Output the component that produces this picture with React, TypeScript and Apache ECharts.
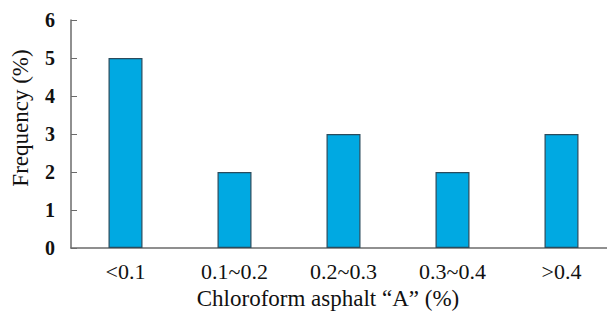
import React, { useEffect, useRef } from "react";
import * as echarts from "echarts";

const categories = ["<0.1", "0.1~0.2", "0.2~0.3", "0.3~0.4", ">0.4"];
const frequency = [5, 2, 3, 2, 3];
const yTicks = [0, 1, 2, 3, 4, 5, 6];

export default function App() {
  const ref = useRef<HTMLDivElement>(null);
  useEffect(() => {
    if (!ref.current) return;
    const chart = echarts.init(ref.current, null, { renderer: "svg" });
    const font = "'Liberation Serif', 'Times New Roman', serif";
    chart.setOption({
      animation: false,
      backgroundColor: "#ffffff",
      grid: { left: 71, top: 20, width: 545, height: 228, containLabel: false, outerBoundsMode: "none" },
      xAxis: {
        type: "category",
        data: categories,
        axisLine: { lineStyle: { color: "#6b6b6b", width: 1.5 } },
        axisTick: { inside: true, length: 5, lineStyle: { color: "#6b6b6b" } },
        axisLabel: { color: "#111", fontFamily: font, fontSize: 22, margin: 12 },
      },
      yAxis: {
        type: "value",
        min: yTicks[0],
        max: yTicks[yTicks.length - 1],
        interval: 1,
        splitLine: { show: false },
        axisLine: { show: true, lineStyle: { color: "#6b6b6b", width: 1.5 } },
        axisTick: { show: true, inside: true, length: 6, lineStyle: { color: "#6b6b6b" } },
        axisLabel: { color: "#111", fontFamily: font, fontSize: 20, fontWeight: "bold", margin: 16 },
      },
      graphic: [
        {
          type: "text",
          x: 328,
          y: 298,
          style: {
            text: "Chloroform asphalt \u201cA\u201d (%)",
            fill: "#111",
            font: `23px ${font}`,
            textAlign: "center",
            textVerticalAlign: "middle",
          },
        },
        {
          type: "text",
          x: 20,
          y: 118,
          rotation: Math.PI / 2,
          style: {
            text: "Frequency (%)",
            fill: "#111",
            font: `23px ${font}`,
            textAlign: "center",
            textVerticalAlign: "middle",
          },
        },
      ],
      series: [
        {
          type: "bar",
          data: frequency,
          barWidth: 34,
          itemStyle: { color: "#00a9e2", borderColor: "#2b4b5c", borderWidth: 1.2 },
        },
      ],
    });
    return () => chart.dispose();
  }, []);
  return <div ref={ref} style={{ width: 607, height: 311, position: "absolute", left: 0, top: 0 }} />;
}
